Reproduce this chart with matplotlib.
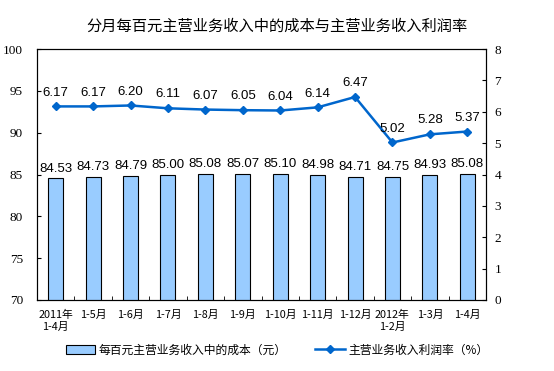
import matplotlib
matplotlib.use("Agg")
import matplotlib.pyplot as plt
from matplotlib.lines import Line2D
from matplotlib.patches import Patch

plt.rcParams['font.family'] = ['Noto Sans CJK SC', 'DejaVu Sans']

categories = ["2011年\n1-4月", "1-5月", "1-6月", "1-7月", "1-8月", "1-9月", "1-10月",
              "1-11月", "1-12月", "2012年\n1-2月", "1-3月", "1-4月"]
cost = [84.53, 84.73, 84.79, 85.00, 85.08, 85.07, 85.10, 84.98, 84.71, 84.75, 84.93, 85.08]
margin = [6.17, 6.17, 6.20, 6.11, 6.07, 6.05, 6.04, 6.14, 6.47, 5.02, 5.28, 5.37]

fig = plt.figure(figsize=(5.54, 3.71), dpi=100)
ax = fig.add_axes([37/554, 1-300/371, 449/554, 251/371])
ax2 = ax.twinx()

x = list(range(len(categories)))
ax.bar(x, cost, width=0.4, bottom=0, color="#99CCFF", edgecolor="black", linewidth=0.8, zorder=2)
ax.set_ylim(70, 100)
ax.set_xlim(-0.5, len(categories) - 0.5)
ax.set_yticks(range(70, 101, 5))
for xi, v in zip(x, cost):
    ax.text(xi, v + 0.45, f"{v:.2f}", ha="center", va="bottom", fontsize=9.5, family="Liberation Sans")

ax2.plot(x, margin, color="#0066CC", marker="D", markersize=4, linewidth=1.8, zorder=3)
ax2.set_ylim(0, 8)
ax2.set_yticks(range(0, 9))
for xi, v in zip(x, margin):
    ax2.text(xi, v + 0.25, f"{v:.2f}", ha="center", va="bottom", fontsize=9.5, family="Liberation Sans")

ax.set_xticks(x)
ax.set_xticklabels(categories, fontsize=7.8, linespacing=1.3)
ax.tick_params(axis="x", length=0, pad=7)
ax.set_xticks([i + 0.5 for i in x[:-1]], minor=True)
ax.tick_params(axis="x", which="minor", length=3, direction="in")
ax.tick_params(axis="y", labelsize=9.5, length=3, direction="in", pad=10)
ax2.tick_params(axis="y", labelsize=9.5, length=3, direction="in", pad=6)
for a in (ax, ax2):
    for lab in a.get_yticklabels():
        lab.set_family("Liberation Serif")
    for s in a.spines.values():
        s.set_linewidth(0.8)

fig.suptitle("分月每百元主营业务收入中的成本与主营业务收入利润率", y=1-26/371, va="center", fontsize=11)

handles = [Patch(facecolor="#99CCFF", edgecolor="black", linewidth=0.8),
           Line2D([0], [0], color="#0066CC", marker="D", markersize=4, linewidth=1.8)]
fig.legend(handles, ["每百元主营业务收入中的成本（元）", "主营业务收入利润率（%）"],
           loc="center", bbox_to_anchor=(0.5, 1-350/371), ncol=2, frameon=False,
           fontsize=8.5, handlelength=2.5, columnspacing=2.4, handletextpad=0.3)

fig.savefig("out.png", dpi=100)
